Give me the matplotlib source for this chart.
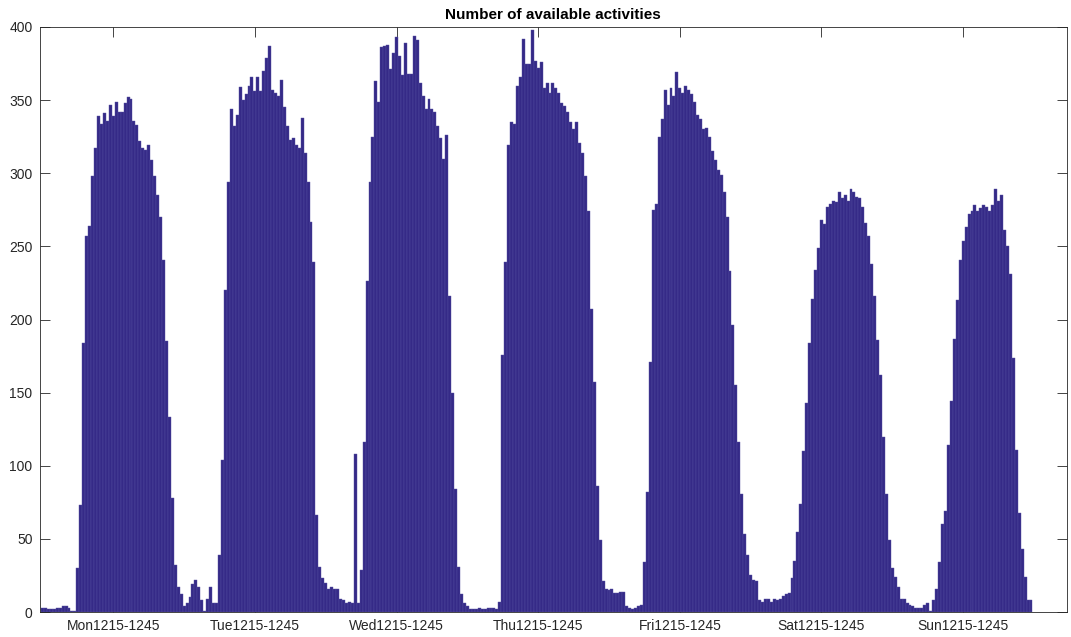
import numpy as np
import matplotlib
matplotlib.use('Agg')
import matplotlib.pyplot as plt

# half-hour slot counts, 48 per day
mon = [3, 3, 2, 2, 2, 3, 3, 4, 4, 3, 1, 1,
       30, 73, 184, 257, 264, 298, 317, 339, 334, 341, 336, 347,
       339, 349, 342, 342, 348, 352, 351, 336, 333, 322, 317, 316,
       319, 309, 298, 285, 270, 241, 185, 133, 78, 32, 17, 12]
tue = [4, 6, 10, 19, 22, 17, 8, 1, 9, 17, 6, 6,
       39, 104, 220, 294, 344, 332, 340, 359, 350, 354, 360, 366,
       356, 366, 356, 370, 379, 387, 357, 355, 353, 364, 345, 332,
       323, 324, 319, 317, 338, 314, 294, 267, 239, 66, 31, 23]
wed = [20, 16, 17, 16, 16, 9, 8, 6, 7, 6, 108, 6,
       29, 116, 226, 294, 325, 363, 349, 386, 387, 388, 371, 382,
       393, 380, 367, 389, 368, 368, 394, 391, 362, 353, 344, 351,
       344, 342, 332, 324, 310, 326, 216, 150, 84, 31, 12, 6]
thu = [4, 2, 2, 2, 3, 2, 2, 3, 3, 3, 2, 7,
       176, 239, 319, 335, 334, 360, 366, 392, 375, 375, 398, 377,
       372, 376, 358, 362, 355, 362, 358, 355, 348, 346, 342, 335,
       330, 335, 321, 314, 298, 274, 207, 157, 86, 49, 21, 16]
fri = [15, 16, 13, 13, 14, 14, 4, 3, 2, 3, 4, 5,
       34, 82, 171, 275, 279, 325, 337, 357, 347, 358, 353, 369,
       358, 355, 360, 357, 354, 349, 340, 337, 330, 331, 325, 315,
       309, 302, 299, 287, 270, 233, 196, 155, 116, 81, 53, 39]
sat = [25, 22, 21, 8, 7, 9, 9, 7, 9, 8, 9, 11,
       12, 13, 23, 35, 55, 74, 110, 143, 184, 214, 234, 249,
       268, 265, 277, 279, 281, 280, 287, 283, 285, 281, 289, 287,
       284, 283, 277, 266, 257, 238, 216, 186, 162, 120, 81, 49]
sun = [30, 24, 17, 9, 9, 6, 5, 4, 3, 3, 3, 5,
       6, 1, 8, 16, 34, 60, 69, 114, 144, 187, 213, 241,
       254, 263, 272, 274, 278, 274, 276, 278, 277, 274, 278, 289,
       281, 285, 261, 250, 231, 174, 111, 68, 43, 24, 8, 8]

days = ['Mon', 'Tue', 'Wed', 'Thu', 'Fri', 'Sat', 'Sun']
slot = '1215-1245'
slot_index = 25  # position of the 1215-1245 slot inside a day

plt.rcParams['font.family'] = ['Liberation Sans', 'DejaVu Sans']

counts = np.concatenate([mon, tue, wed, thu, fri, sat, sun])
x = np.arange(1, len(counts) + 1)

W, H = 1071, 637
fig = plt.figure(figsize=(W / 100, H / 100), dpi=100)
ax = fig.add_axes([39.5 / W, 25 / H, 1027.5 / W, 585 / H])

ax.bar(x, counts, width=1.0, color='#352a87', edgecolor='#5550a0', linewidth=0.3)

ax.set_xlim(0, 348.2)
ax.set_ylim(0, 400)
ax.set_xticks([slot_index + 48 * i for i in range(len(days))])
ax.set_xticklabels([d + slot for d in days])
ax.set_yticks(range(0, 401, 50))
ax.set_axisbelow(True)
ax.tick_params(direction='in', top=True, right=True, length=7.5, width=0.6,
               color='#262626', labelcolor='#262626', labelsize=10, pad=5)
for s in ax.spines.values():
    s.set_color('#262626')
    s.set_linewidth(0.6)

ax.set_title('Number of available activities', fontweight='bold', fontsize=11,
             color='black', pad=6)

fig.savefig('out.png', dpi=100, facecolor='white')
